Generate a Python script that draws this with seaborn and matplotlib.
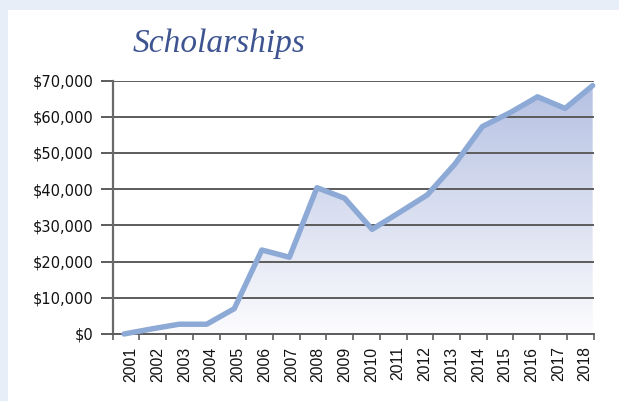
import numpy as np
import matplotlib
matplotlib.use("Agg")
import matplotlib.pyplot as plt
from matplotlib.colors import LinearSegmentedColormap
from matplotlib.patches import Polygon, Rectangle
from matplotlib import font_manager as fm
import seaborn as sns

# ---- data ----
years = ['2001', '2002', '2003', '2004', '2005', '2006', '2007', '2008', '2009',
         '2010', '2011', '2012', '2013', '2014', '2015', '2016', '2017', '2018']
values = [0, 1400, 2700, 2700, 7000, 23200, 21200, 40400, 37500,
          28900, 33600, 38400, 46900, 57300, 61100, 65500, 62300, 68600]
ytick_values = [0, 10000, 20000, 30000, 40000, 50000, 60000, 70000]
ytick_labels = ['\\$0', '\\$10,000', '\\$20,000', '\\$30,000', '\\$40,000',
                '\\$50,000', '\\$60,000', '\\$70,000']
title = 'Scholarships'

sns.set_theme(style='white')
plt.rcParams['font.family'] = ['DejaVu Sans']


def pick_font(cands):
    for c in cands:
        try:
            fm.findfont(fm.FontProperties(family=c), fallback_to_default=False)
            return c
        except Exception:
            continue
    return 'DejaVu Sans'


xfont = pick_font(['Liberation Sans Narrow', 'Liberation Sans'])
xsize = 12.5 if xfont == 'Liberation Sans Narrow' else 11.3

W, H = 619, 401
fig = plt.figure(figsize=(W / 100, H / 100), dpi=100)
fig.patch.set_facecolor('#E7EEF8')
bg = Rectangle((8.3 / W, 0), 1, (H - 9.7) / H, transform=fig.transFigure,
               facecolor='white', edgecolor='none', zorder=-10)
fig.patches.append(bg)

ax = fig.add_axes([112.7 / W, (H - 334) / H, (593.5 - 112.7) / W, (334 - 80.5) / H])
ax.set_facecolor('none')
ax.set_zorder(5)

x = np.arange(len(years))
x0, x1 = -0.409, 17.03
ax.set_xlim(x0, x1)
ax.set_ylim(0, 70000)

# gradient area fill
cmap = LinearSegmentedColormap.from_list('g', ['#FCFCFE', '#B4C0E2'])
grad = np.linspace(0, 1, 256).reshape(-1, 1)
im = ax.imshow(grad, extent=[x0, x1, 0, 70000], origin='lower', aspect='auto',
               cmap=cmap, zorder=0.5, interpolation='bilinear')
verts = [(x[0], 0)] + list(zip(x, values)) + [(x[-1], 0)]
poly = Polygon(verts, closed=True, facecolor='none', edgecolor='none',
               transform=ax.transData)
ax.add_patch(poly)
im.set_clip_path(poly)

# gridlines
ax.set_yticks(ytick_values)
ax.set_yticklabels(ytick_labels, fontsize=10.5, color='#111111')
ax.yaxis.grid(True, color='#5C5C5C', linewidth=1.4)
for gl in ax.get_ygridlines():
    gl.set_zorder(1)
ax.tick_params(axis='y', length=8.3, width=1.4, color='#5C5C5C', pad=5.5, left=True)

# line
sns.lineplot(x=x, y=values, ax=ax, color='#8DA9D6', linewidth=3.9, zorder=3,
             solid_capstyle='round', solid_joinstyle='round', clip_on=False)

# x axis: boundary tick marks + labels
bounds = np.linspace(x0, x1, 19)
ax.set_xticks(bounds, minor=True)
mids = (bounds[:-1] + bounds[1:]) / 2 + 0.18
ax.set_xticks(mids)
ax.set_xticklabels(years, rotation=90, fontsize=xsize, family=xfont, color='#111111')
ax.tick_params(axis='x', which='major', length=0, pad=9)
ax.tick_params(axis='x', which='minor', length=4.5, width=1.3, color='#6A6A6A',
               bottom=True, direction='out')

for s in ['top', 'right']:
    ax.spines[s].set_visible(False)
ax.spines['left'].set_color('#6A6A6A')
ax.spines['left'].set_linewidth(1.6)
ax.spines['bottom'].set_color('#5C5C5C')
ax.spines['bottom'].set_linewidth(1.4)

fig.text(219 / W, (H - 52) / H, title, ha='center', va='baseline',
         fontsize=24, fontstyle='italic', family='Liberation Serif', color='#3D5490')

fig.savefig('out.png', dpi=100, facecolor=fig.get_facecolor())
